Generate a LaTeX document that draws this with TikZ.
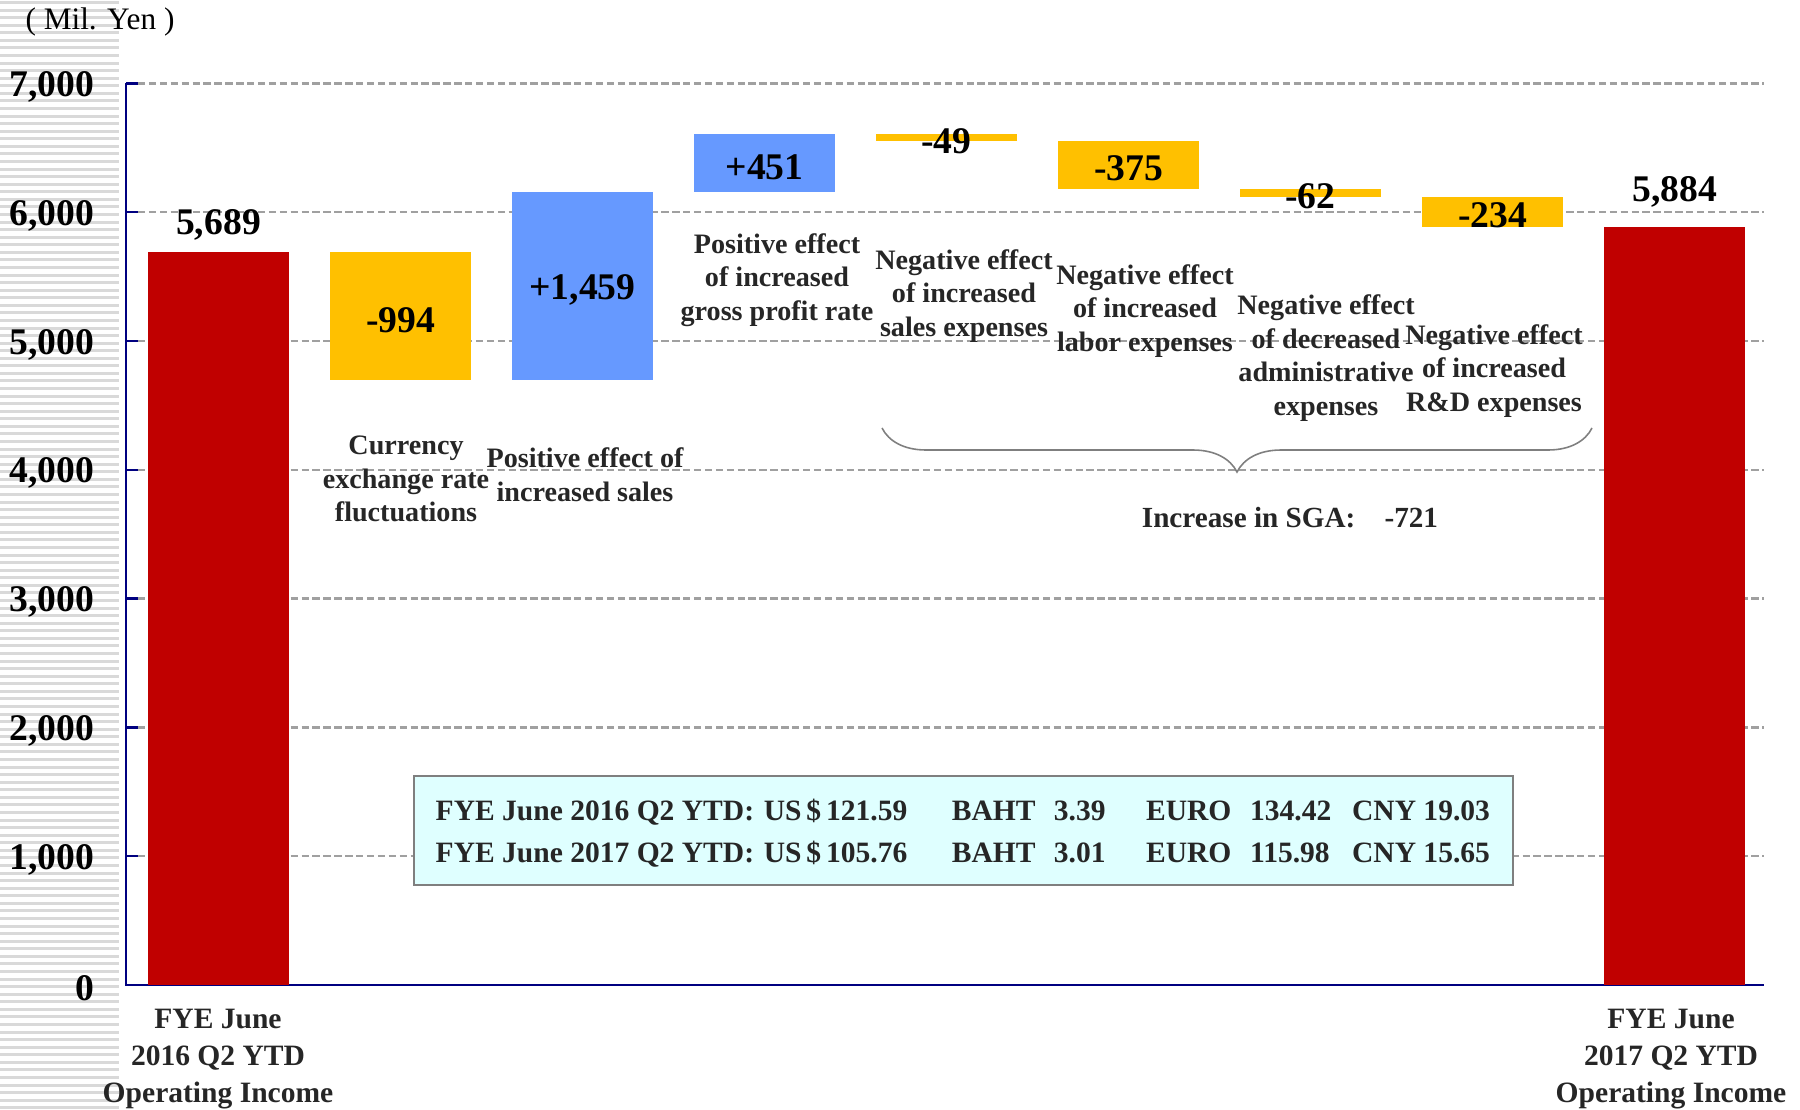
\documentclass[tikz,border=0pt]{standalone}
\usepackage{fontspec}
\setmainfont{Liberation Serif}
\usetikzlibrary{positioning,decorations.pathreplacing}

\definecolor{barred}{HTML}{C00000}
\definecolor{baryellow}{HTML}{FFC000}
\definecolor{barblue}{HTML}{6699FF}
\definecolor{axisblue}{HTML}{000080}
\definecolor{gridgray}{HTML}{A0A0A0}
\definecolor{stripegray}{HTML}{D9D9D9}
\definecolor{ratefill}{HTML}{DFFFFF}
\definecolor{rategray}{HTML}{7F7F7F}
\definecolor{labgray}{HTML}{262626}

\newcommand{\raterow}[5]{\makebox[93.3pt][l]{FYE June #1 Q2 YTD:}\makebox[53.5pt][l]{US\,\$\,#2}\makebox[29pt][l]{BAHT}\makebox[26.2pt][l]{#3}\makebox[29.6pt][l]{EURO}\makebox[29pt][l]{#4}CNY #5}

\begin{document}
\begin{tikzpicture}[x=0.01cm, y=0.01cm] %Operating income bridge
   \tikzstyle{numlab} = [font=\fontsize{10.7}{12}\selectfont\bfseries, text=black, inner sep=0pt, yshift=-0.035cm]
   \tikzstyle{catlab} = [font=\fontsize{8}{9.6}\selectfont\bfseries, text=labgray, align=center, inner sep=0pt]
   \tikzstyle{yearlab} = [font=\fontsize{8.4}{10.5}\selectfont\bfseries, text=labgray, align=center, inner sep=0pt]
   \tikzstyle{ratetext} = [font=\fontsize{8.4}{10}\selectfont\bfseries, text=labgray, inner sep=0pt]
   \tikzstyle{gridline} = [gridgray, line width=0.7pt, dash pattern=on 2.1pt off 1pt]
   \useasboundingbox (0,0) rectangle (1800,1109);
   \foreach \k in {0,...,146}
      \fill[stripegray] (0,{1108-\k*7.57}) rectangle (119,{1105-\k*7.57});
   \node[font=\fontsize{8.9}{10}\selectfont, inner sep=0pt] (unit) at (100,1087) {( Mil. Yen )};

   \begin{scope}[yshift=1.24cm, y=1.287cm]
      \foreach \v in {1,...,7}
      {
         \draw[gridline] (138,\v) -- (1764,\v);
         \draw[axisblue, line width=0.7pt] (126,\v) -- (138,\v);
         \node[numlab, anchor=east] (tick\v) at (95,\v) {\v,000};
      }
      \node[numlab, anchor=east] (tick0) at (95,0) {0};
      \draw[axisblue, line width=0.8pt] (126,7) -- (126,0) -- (1764,0);

      \fill[barred] (148,0) rectangle (289,5.689);
      \fill[barred] (1604,0) rectangle (1745,5.884);
      \node[numlab] (startval) at (218.5,5.93) {5,689};
      \node[numlab] (endval) at (1674.5,6.185) {5,884};

      \foreach \name/\xl/\lo/\hi/\col/\t in {cur/330/4.695/5.689/baryellow/-994, sales/512/4.695/6.154/barblue/{+1,459}, gpr/694/6.154/6.605/barblue/+451, sexp/876/6.556/6.605/baryellow/-49, labor/1058/6.181/6.556/baryellow/-375, admin/1240/6.119/6.181/baryellow/-62, rnd/1422/5.885/6.119/baryellow/-234}
      {
         \fill[\col] (\xl,\lo) rectangle ({\xl+141},\hi);
         \node[numlab] (\name val) at ({\xl+70.5},{(\lo+\hi)/2}) {\t};
      }
   \end{scope}

   \node[catlab] (curlab) at (406,630) {Currency\\exchange rate\\fluctuations};
   \node[catlab] (saleslab) at (585,634) {Positive effect of\\increased sales};
   \node[catlab] (gprlab) at (777,829) {Positive effect\\of increased\\gross profit rate};
   \node[catlab] (sexplab) at (964,813) {Negative effect\\of increased\\sales expenses};
   \node[catlab] (laborlab) at (1145,798) {Negative effect\\of increased\\labor expenses};
   \node[catlab] (adminlab) at (1326,751) {Negative effect\\of decreased\\administrative\\expenses};
   \node[catlab] (rndlab) at (1494,738) {Negative effect\\of increased\\R\&D expenses};

   \coordinate (sgaL) at (882,681);
   \coordinate (sgaR) at (1592,681);
   \draw[decorate, decoration={brace, mirror, amplitude=0.44cm}, rategray, line width=0.45pt] (sgaL) -- (sgaR);
   \node[catlab, font=\fontsize{8.3}{10}\selectfont\bfseries] (sga) at (1290,591) {Increase in SGA:\hspace{1em}-721};

   \node[draw=rategray, line width=0.6pt, fill=ratefill, minimum width=10.99cm, minimum height=1.09cm, inner sep=0pt] (rates) at (963.5,278.5) {};
   \node[ratetext, anchor=base west] (rate16) at (435,288) {\raterow{2016}{121.59}{3.39}{134.42}{19.03}};
   \node[ratetext, anchor=base west] (rate17) at (435,246) {\raterow{2017}{105.76}{3.01}{115.98}{15.65}};

   \node[yearlab] (startyear) at (218,50) {FYE June\\2016 Q2 YTD\\Operating Income};
   \node[yearlab] (endyear) at (1671,50) {FYE June\\2017 Q2 YTD\\Operating Income};
\end{tikzpicture}
\end{document}
